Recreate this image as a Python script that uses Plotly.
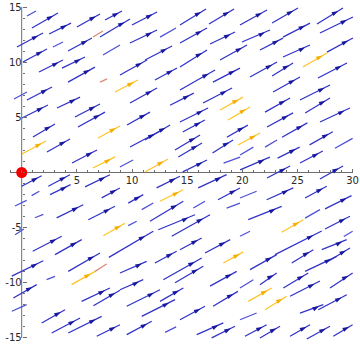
import plotly.graph_objects as go

# stream segments (data units): x0, y0, x1, y1, kind
# kind: b = blue with head, s = short blue no head, y = yellow with head, o = salmon no head
streams = [
    # upper half
    (0.48,14.19,1.30,14.64,'s'), (0.93,13.10,3.29,14.46,'b'), (5.01,13.19,7.10,14.37,'b'),
    (7.55,13.83,9.09,14.64,'b'), (10.00,13.37,12.27,14.55,'b'), (14.35,13.37,16.71,14.82,'b'),
    (16.98,13.46,19.25,14.82,'b'), (19.79,13.37,22.24,14.73,'b'), (22.70,13.55,25.05,14.91,'b'),
    (26.77,13.46,29.13,14.91,'b'), (-0.43,11.38,1.93,12.65,'b'), (2.48,12.56,4.47,13.55,'b'),
    (6.46,12.28,7.37,12.83,'o'), (4.20,11.02,6.37,12.19,'b'), (7.10,12.28,9.82,13.92,'b'),
    (2.84,11.38,3.74,11.83,'s'), (9.82,11.74,12.27,12.92,'b'), (12.54,12.28,13.99,13.10,'s'),
    (14.35,11.74,16.80,13.10,'b'), (17.07,11.65,19.34,12.74,'b'), (19.97,11.83,22.51,12.92,'b'),
    (23.69,12.28,26.14,13.55,'b'), (27.04,12.65,30.03,14.10,'b'), (0.12,10.02,2.29,11.20,'b'),
    (1.57,9.11,3.74,10.20,'b'), (3.65,9.47,5.74,10.47,'b'), (4.20,8.20,6.64,9.56,'b'),
    (7.37,10.65,8.91,11.56,'s'), (8.91,8.84,11.36,10.20,'b'), (11.18,10.20,13.63,11.47,'b'),
    (14.35,9.56,16.80,11.11,'b'), (17.98,10.20,20.43,11.56,'b'), (21.61,11.11,23.69,12.19,'b'),
    (23.69,10.47,26.14,11.56,'b'), (25.50,9.56,27.68,10.83,'y'), (27.68,10.92,30.03,12.19,'b'),
    (-0.70,6.66,0.48,7.30,'s'), (0.48,6.57,2.75,7.75,'b'), (3.20,5.85,5.29,6.84,'b'),
    (4.83,5.03,7.10,6.21,'b'), (7.10,8.20,7.74,8.48,'o'), (8.46,7.30,10.54,8.39,'y'),
    (9.82,6.30,12.27,7.66,'b'), (12.08,8.39,14.08,9.47,'b'), (14.35,7.48,17.53,9.29,'b'),
    (17.34,8.20,19.79,9.47,'b'), (20.70,8.66,23.15,10.02,'b'), (22.79,7.30,25.23,8.66,'b'),
    (26.86,8.57,29.49,9.93,'b'), (0.03,4.94,2.38,6.12,'b'), (1.02,3.22,3.02,4.40,'b'),
    (5.10,4.13,7.55,5.48,'b'), (6.92,3.13,8.91,4.22,'y'), (9.55,4.31,11.63,5.48,'b'),
    (11.18,2.95,13.45,4.31,'b'), (16.44,6.30,19.07,7.66,'b'), (17.98,5.67,20.06,6.84,'y'),
    (18.71,4.76,20.70,5.94,'y'), (22.06,5.48,24.33,6.75,'b'), (25.23,6.57,27.95,7.93,'b'),
    (27.04,4.58,29.76,5.85,'b'), (0.03,1.68,2.20,2.86,'y'), (2.29,1.86,4.38,3.04,'b'),
    (4.56,0.86,6.83,2.04,'b'), (6.46,0.41,8.46,1.41,'y'), (11.18,0.05,13.26,1.22,'y'),
    (9.82,2.31,12.54,3.76,'b'), (13.90,2.04,16.17,3.40,'b'), (19.61,2.49,21.61,3.58,'y'),
    (14.60,3.67,16.60,4.76,'b'), (17.30,1.77,19.16,2.95,'b'), (18.60,3.20,20.50,4.30,'b'),
    (22.24,4.13,24.60,5.40,'b'), (23.60,3.20,25.90,4.50,'b'), (26.10,2.50,28.20,3.70,'b'),
    (28.40,2.20,30.00,3.10,'s'), (23.20,1.30,25.20,2.30,'b'), (25.23,0.86,27.30,1.95,'b'),
    (19.80,0.23,22.50,1.40,'b'), (14.60,0.05,16.80,1.13,'b'), (22.06,2.30,23.15,2.95,'s'),
    (25.70,5.40,27.95,6.75,'b'), (19.80,1.59,21.00,2.30,'s'), (22.70,8.75,24.60,9.93,'b'),
    (13.45,6.10,15.60,7.20,'b'), (14.35,4.58,16.90,5.85,'b'), (14.20,1.40,16.35,2.67,'b'),
    (18.30,0.86,19.80,1.40,'s'), (8.90,0.50,10.10,1.13,'s'),
    # lower half, left
    (0.00,-1.25,1.81,-0.29,'b'), (2.41,-1.25,4.38,-0.20,'b'), (5.74,-1.31,8.00,-0.20,'b'),
    (-0.61,-3.04,0.45,-2.52,'s'), (0.90,-2.10,1.60,-1.70,'s'), (2.57,-2.00,4.44,-1.10,'b'),
    (7.25,-2.30,8.90,-1.40,'b'), (1.20,-4.10,1.96,-3.80,'s'), (3.17,-4.12,5.58,-2.92,'b'),
    (6.04,-4.28,8.46,-3.06,'b'), (7.40,-5.73,9.36,-4.60,'y'), (-0.60,-5.64,0.20,-5.12,'s'),
    (1.00,-7.14,3.63,-5.78,'b'), (3.02,-7.45,5.44,-6.09,'b'), (4.22,-8.96,7.10,-7.30,'b'),
    (-0.90,-9.40,1.96,-8.00,'b'), (2.26,-9.72,3.02,-9.41,'s'), (4.52,-10.17,6.65,-8.96,'y'),
    (6.65,-8.96,7.70,-8.30,'o'), (-0.76,-11.38,1.36,-10.17,'b'), (5.43,-11.68,8.00,-10.47,'b'),
    (6.50,-12.08,8.91,-10.68,'b'), (-0.90,-12.58,0.45,-11.98,'s'), (1.81,-13.64,3.93,-12.44,'b'),
    (2.72,-14.55,5.29,-13.19,'b'), (4.22,-14.55,7.25,-13.04,'b'), (6.80,-14.85,8.91,-13.80,'b'),
    # lower half, middle
    (12.23,-1.40,14.35,-0.34,'b'), (12.54,-2.61,14.65,-1.56,'y'), (9.66,-2.77,11.02,-2.01,'b'),
    (10.88,-3.37,11.93,-2.77,'s'), (11.63,-4.42,14.65,-2.61,'b'), (12.38,-5.19,15.71,-3.83,'b'),
    (15.56,-3.22,16.62,-2.61,'s'), (16.00,-1.40,18.58,-0.20,'b'), (17.80,-2.47,19.79,-1.40,'b'),
    (18.58,-3.22,19.79,-2.77,'s'), (13.60,-5.78,17.07,-3.83,'b'), (7.90,-7.70,11.93,-5.33,'b'),
    (9.66,-4.82,10.43,-4.42,'s'), (12.08,-8.20,14.05,-7.14,'b'), (14.35,-7.00,16.32,-5.94,'b'),
    (16.62,-7.30,18.90,-6.09,'b'), (18.28,-8.20,20.09,-7.20,'y'), (8.91,-9.11,11.33,-8.05,'b'),
    (12.84,-9.72,16.32,-7.75,'b'), (8.91,-10.63,11.02,-9.72,'b'), (13.90,-10.00,16.46,-8.50,'b'),
    (17.07,-10.30,19.49,-8.96,'b'), (9.52,-12.13,12.54,-10.63,'b'), (12.54,-11.68,14.65,-10.47,'b'),
    (10.88,-13.04,13.90,-11.53,'b'), (14.35,-13.35,16.62,-12.13,'b'), (17.35,-12.13,19.60,-10.78,'b'),
    (9.52,-14.70,11.79,-13.49,'b'), (13.00,-14.50,14.00,-14.00,'s'), (15.87,-14.70,18.28,-13.64,'b'),
    (17.22,-15.00,19.34,-13.94,'b'),
    # lower half, right
    (22.24,-0.50,24.33,0.59,'b'), (27.04,-0.59,29.13,0.59,'b'), (25.69,-2.31,27.65,-1.25,'b'),
    (27.50,-3.30,29.90,-2.10,'b'), (19.79,-2.31,21.30,-1.70,'s'), (20.54,-4.28,23.57,-3.07,'b'),
    (22.21,-2.47,24.62,-1.40,'b'), (23.57,-5.42,25.53,-4.28,'y'), (25.69,-4.13,27.04,-3.37,'s'),
    (27.50,-5.12,29.76,-3.97,'b'), (19.79,-5.78,20.70,-5.33,'s'), (20.70,-8.81,23.12,-7.45,'b'),
    (22.97,-7.45,27.20,-5.30,'b'), (24.48,-8.20,26.44,-7.00,'b'), (25.69,-8.96,28.56,-7.60,'b'),
    (27.20,-7.00,29.47,-6.09,'b'), (27.80,-8.05,29.76,-6.85,'b'), (29.20,-5.80,30.00,-5.33,'s'),
    (19.79,-10.47,21.00,-9.72,'s'), (21.60,-10.17,23.12,-9.11,'b'), (20.54,-11.68,22.66,-10.47,'y'),
    (22.06,-12.44,24.02,-11.22,'y'), (23.72,-10.47,25.98,-9.11,'b'), (24.33,-11.22,27.04,-9.84,'b'),
    (25.23,-12.74,27.34,-11.98,'b'), (26.89,-12.44,29.47,-11.08,'b'), (27.95,-10.47,30.00,-9.11,'b'),
    (19.79,-13.35,21.30,-12.74,'s'), (20.24,-14.85,22.21,-13.80,'b'), (21.60,-15.00,23.42,-13.94,'b'),
    (24.33,-14.85,26.14,-13.80,'b'), (25.84,-15.10,27.95,-13.94,'b'), (28.25,-14.85,30.00,-13.80,'b'),
]

x_tick_vals = [5, 10, 15, 20, 25, 30]
y_tick_vals = [-15, -10, -5, 5, 10, 15]
point_x = [0]
point_y = [0]

HEAD_FRAC = 0.82
line_colors = {'b': 'rgb(50,50,200)', 's': 'rgb(80,80,215)',
               'y': 'rgb(255,196,40)', 'o': 'rgb(214,140,120)'}
head_colors = {'b': 'rgb(25,25,160)', 'y': 'rgb(245,175,0)'}

fig = go.Figure()
for kind, col in line_colors.items():
    xs, ys = [], []
    for x0, y0, x1, y1, k in streams:
        if k == kind:
            xs += [x0, x1, None]
            ys += [y0, y1, None]
    fig.add_trace(go.Scatter(x=xs, y=ys, mode='lines', line=dict(color=col, width=1.3),
                             hoverinfo='skip', showlegend=False))

for kind, col in head_colors.items():
    hx, hy = [], []
    for x0, y0, x1, y1, k in streams:
        if k == kind:
            hx.append(x0 + HEAD_FRAC * (x1 - x0))
            hy.append(y0 + HEAD_FRAC * (y1 - y0))
    fig.add_trace(go.Scatter(x=hx, y=hy, mode='markers',
                             marker=dict(symbol='arrow', size=7, angle=62, color=col,
                                         line=dict(width=0)),
                             hoverinfo='skip', showlegend=False))

axis_col = 'rgb(110,110,110)'
fig.add_shape(type='line', x0=-1.0, x1=30.0, y0=0, y1=0, line=dict(color=axis_col, width=1), layer='below')
fig.add_shape(type='line', x0=0, x1=0, y0=-15, y1=15, line=dict(color=axis_col, width=1), layer='below')

fig.add_trace(go.Scatter(x=point_x, y=point_y, mode='markers',
                         marker=dict(color='rgb(240,0,0)', size=11, line=dict(width=0)),
                         hoverinfo='skip', showlegend=False))

xmin, xmax = -1.967, 30.67
ymin, ymax = -15.73, 15.64
fig.update_layout(
    width=360, height=346, autosize=False,
    margin=dict(l=0, r=0, t=0, b=0),
    paper_bgcolor='white', plot_bgcolor='white',
    font=dict(family='DejaVu Sans', size=10, color='rgb(40,40,40)'),
    xaxis=dict(range=[xmin, xmax], showgrid=False, zeroline=False, showline=False,
               anchor='free', position=(0 - ymin) / (ymax - ymin),
               tickmode='array', tickvals=x_tick_vals, ticktext=[str(v) for v in x_tick_vals],
               ticks='inside', ticklen=4, tickcolor=axis_col, tickwidth=1,
               minor=dict(tickmode='array', tickvals=list(range(-1, 31)), ticks='inside',
                          ticklen=2.5, tickcolor=axis_col, tickwidth=1)),
    yaxis=dict(range=[ymin, ymax], showgrid=False, zeroline=False, showline=False,
               anchor='free', position=(0 - xmin) / (xmax - xmin),
               tickmode='array', tickvals=y_tick_vals, ticktext=[str(v) for v in y_tick_vals],
               ticks='inside', ticklen=4, tickcolor=axis_col, tickwidth=1,
               minor=dict(tickmode='array', tickvals=list(range(-15, 16)), ticks='inside',
                          ticklen=2.5, tickcolor=axis_col, tickwidth=1)),
)
fig.write_html('out.html')
